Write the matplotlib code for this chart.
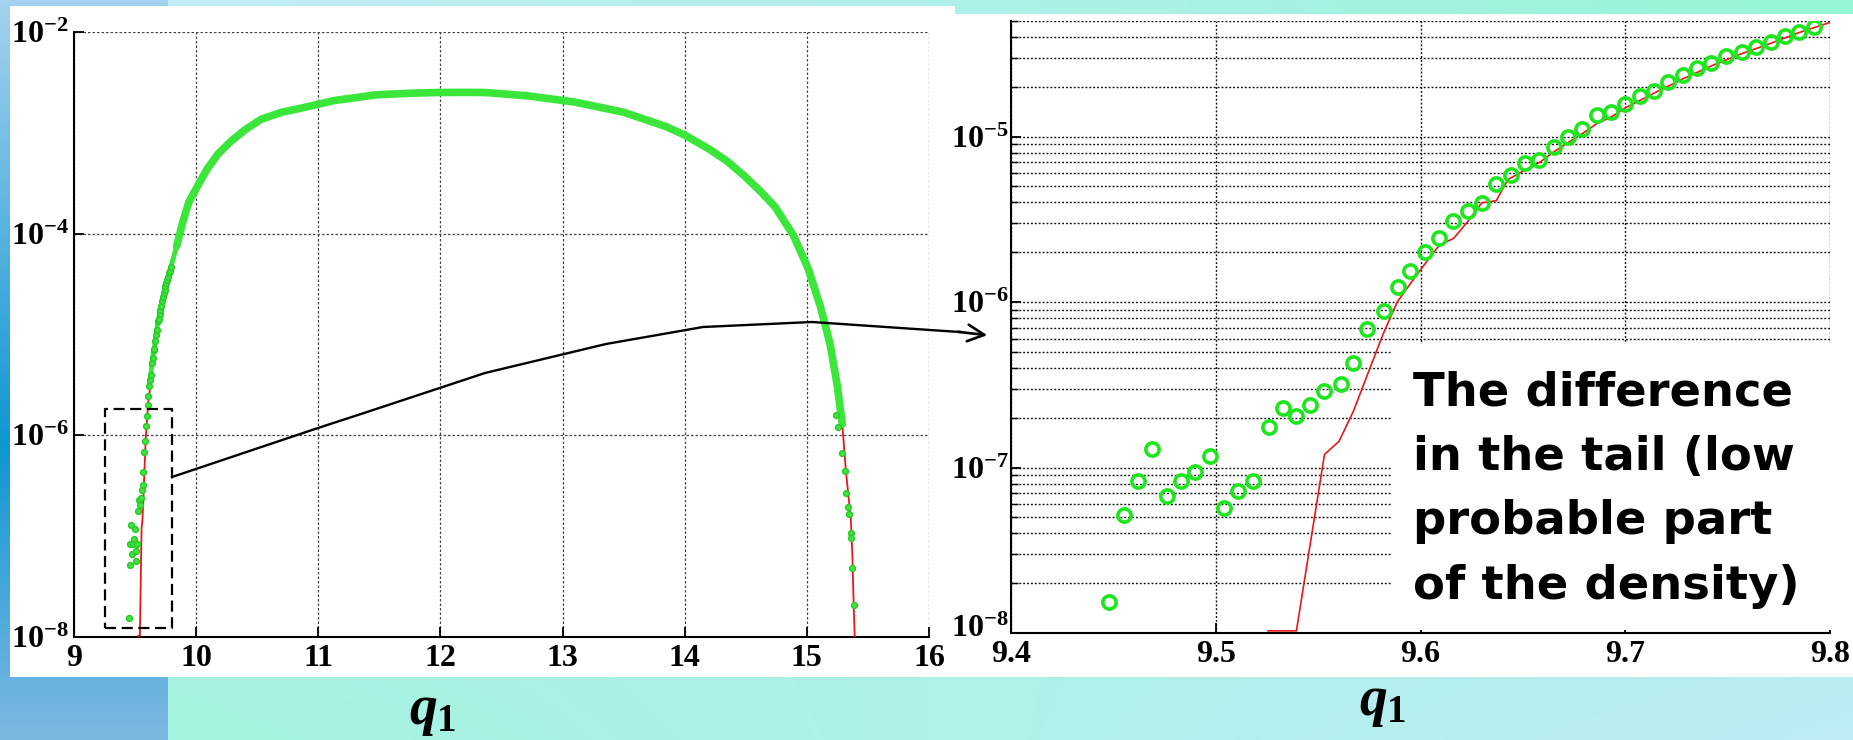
import numpy as np
import matplotlib
matplotlib.use('Agg')
import matplotlib.pyplot as plt
from matplotlib.patches import Rectangle, FancyArrowPatch
from matplotlib.lines import Line2D
from matplotlib.transforms import ScaledTranslation
from matplotlib.ticker import FixedLocator, FuncFormatter, LogLocator, NullFormatter

plt.rcParams['mathtext.fontset'] = 'custom'
plt.rcParams['mathtext.rm'] = 'Liberation Serif:bold'
plt.rcParams['mathtext.it'] = 'Liberation Serif:bold:italic'
plt.rcParams['mathtext.bf'] = 'Liberation Serif:bold'
plt.rcParams['font.family'] = ['Liberation Serif', 'DejaVu Serif']

# ---------------- data ----------------
# Monte-Carlo histogram near the left tail (green circles)
tail_q = [9.448, 9.455, 9.462, 9.469, 9.476, 9.483, 9.490, 9.497, 9.504, 9.511,
          9.518, 9.526, 9.533, 9.539, 9.546, 9.553, 9.561, 9.567, 9.574, 9.582,
          9.589, 9.595, 9.602, 9.609, 9.616, 9.623, 9.630, 9.637, 9.644, 9.651,
          9.658, 9.665, 9.672, 9.679, 9.686, 9.693, 9.700, 9.707, 9.714, 9.721,
          9.728, 9.735, 9.742, 9.749, 9.757, 9.764, 9.771, 9.778, 9.785, 9.792]
tail_p = [1.53e-8, 5.2e-8, 8.3e-8, 1.30e-7, 6.7e-8, 8.3e-8, 9.4e-8, 1.18e-7, 5.7e-8, 7.2e-8,
          8.3e-8, 1.77e-7, 2.28e-7, 2.06e-7, 2.38e-7, 2.9e-7, 3.2e-7, 4.3e-7, 6.9e-7, 8.8e-7,
          1.24e-6, 1.55e-6, 2.0e-6, 2.43e-6, 3.1e-6, 3.56e-6, 3.98e-6, 5.2e-6, 5.9e-6, 6.97e-6,
          7.2e-6, 8.65e-6, 9.9e-6, 1.12e-5, 1.35e-5, 1.41e-5, 1.58e-5, 1.75e-5, 1.9e-5, 2.13e-5,
          2.35e-5, 2.6e-5, 2.77e-5, 3.06e-5, 3.23e-5, 3.49e-5, 3.73e-5, 4.03e-5, 4.31e-5, 4.63e-5]

# Computed density near the left tail (red line)
red_tail_q = [9.5255, 9.5394, 9.5531, 9.5602, 9.5673, 9.5744, 9.5815, 9.5886, 9.5952, 9.602,
              9.6091, 9.6162, 9.623, 9.6299, 9.637, 9.6427, 9.6512, 9.6583, 9.6652, 9.672,
              9.6794, 9.6862, 9.6933, 9.7004, 9.714, 9.728, 9.7422, 9.7565, 9.7707, 9.785, 9.80]
red_tail_p = [1.03e-8, 1.03e-8, 1.20e-7, 1.44e-7, 2.2e-7, 3.73e-7, 6.3e-7, 1.0e-6, 1.30e-6, 1.69e-6,
              2.2e-6, 2.43e-6, 3.06e-6, 3.98e-6, 4.1e-6, 5.5e-6, 6.3e-6, 7.0e-6, 8.1e-6, 9.2e-6,
              1.05e-5, 1.2e-5, 1.32e-5, 1.5e-5, 1.83e-5, 2.23e-5, 2.68e-5, 3.16e-5, 3.65e-5, 4.26e-5, 4.9e-5]

# Body of the density (both curves coincide)
body_q = [9.84, 9.89, 9.94, 10.0, 10.09, 10.18, 10.29, 10.40, 10.53, 10.70,
          10.88, 11.13, 11.47, 11.75, 11.97, 12.2, 12.37, 12.71, 13.1, 13.5,
          13.85, 14.0, 14.2, 14.35, 14.49, 14.62, 14.74, 14.89, 15.01, 15.11,
          15.19, 15.25, 15.29, 15.32, 15.36, 15.373, 15.383, 15.393]
body_p = [7.5e-5, 1.3e-4, 2.05e-4, 2.8e-4, 4.37e-4, 6.2e-4, 8.36e-4, 1.07e-3, 1.36e-3, 1.6e-3,
          1.78e-3, 2.09e-3, 2.38e-3, 2.47e-3, 2.51e-3, 2.52e-3, 2.51e-3, 2.33e-3, 2.02e-3, 1.60e-3,
          1.15e-3, 9.5e-4, 6.9e-4, 5.2e-4, 3.72e-4, 2.63e-4, 1.84e-4, 9.6e-5, 4.53e-5, 1.91e-5,
          8.05e-6, 3.05e-6, 1.29e-6, 4.37e-7, 1.48e-7, 6.25e-8, 2.12e-8, 9.0e-9]

# Monte-Carlo points in the right tail
rtail_q = [15.235, 15.259, 15.284, 15.309, 15.324, 15.334, 15.348, 15.358, 15.363, 15.373, 15.385]
rtail_p = [1.60e-6, 1.22e-6, 6.7e-7, 4.4e-7, 2.7e-7, 1.95e-7, 1.65e-7, 1.07e-7, 9.6e-8, 4.8e-8, 2.1e-8]

left_xticks = [9, 10, 11, 12, 13, 14, 15, 16]
left_yticks = [1e-8, 1e-6, 1e-4, 1e-2]
right_xticks = [9.4, 9.5, 9.6, 9.7, 9.8]
right_yticks = [1e-8, 1e-7, 1e-6, 1e-5]
zoom_box = (9.25, 9.80, 1.23e-8, 1.82e-6)   # region enlarged on the right
note = "The difference\nin the tail (low\nprobable part\nof the density)"

# ---------------- figure ----------------
W, H = 1853, 740
fig = plt.figure(figsize=(W / 100, H / 100), dpi=100)


def fx(x):
    return x / W


def fy(y):
    return 1 - y / H


# background gradient (slide)
bg = fig.add_axes([0, 0, 1, 1], zorder=-10)
bg.set_axis_off()
yy, xx = np.mgrid[0:1:H * 1j, 0:1:W * 1j]
TL = np.array([200, 235, 250]) / 255
TR = np.array([150, 245, 215]) / 255
BL = np.array([160, 245, 220]) / 255
BR = np.array([190, 236, 245]) / 255
img = (TL * ((1 - xx) * (1 - yy))[..., None] + TR * (xx * (1 - yy))[..., None]
       + BL * ((1 - xx) * yy)[..., None] + BR * (xx * yy)[..., None])
ys = np.linspace(0, 1, H)
c0 = np.array([165, 210, 238]) / 255
c1 = np.array([15, 150, 210]) / 255
c2 = np.array([125, 185, 225]) / 255
strip = np.where((ys < 0.6)[:, None], c0 + (c1 - c0) * np.clip(ys / 0.6, 0, 1)[:, None],
                 c1 + (c2 - c1) * np.clip((ys - 0.6) / 0.4, 0, 1)[:, None])
img[:, :168, :] = strip[:, None, :]
bg.imshow(img, aspect='auto', extent=[0, 1, 0, 1], origin='upper')

# white panels
fig.add_artist(Rectangle((fx(10), fy(677)), fx(955) - fx(10), fy(6) - fy(677),
                         transform=fig.transFigure, facecolor='white', edgecolor='none', zorder=-5))
fig.add_artist(Rectangle((fx(955), fy(677)), 1 - fx(955), fy(14) - fy(677),
                         transform=fig.transFigure, facecolor='white', edgecolor='none', zorder=-5))

grid_kw = dict(color='#111111', linestyle=(0, (1.4, 1.4)), linewidth=1.0)
exp_fmt = FuncFormatter(lambda v, pos: r'$10^{%d}$' % int(round(np.log10(v))))


def style_axes(ax):
    ax.set_facecolor('none')
    for s in ('top', 'right'):
        ax.spines[s].set_visible(False)
    for s in ('left', 'bottom'):
        ax.spines[s].set_linewidth(1.5)
    ax.tick_params(which='major', direction='in', length=7, width=1.3, labelsize=23, pad=5)
    ax.tick_params(which='minor', direction='in', length=5, width=1.0)


# ---------- left axes ----------
axL = fig.add_axes([fx(74), fy(637), fx(929) - fx(74), fy(32) - fy(637)])
style_axes(axL)
axL.tick_params(axis='y', pad=4)
axL.set_yscale('log')
axL.set_xlim(9, 16)
axL.set_ylim(1e-8, 1e-2)
axL.xaxis.set_major_locator(FixedLocator(left_xticks))
axL.yaxis.set_major_locator(FixedLocator(left_yticks))
axL.yaxis.set_minor_locator(FixedLocator([]))
axL.yaxis.set_major_formatter(exp_fmt)
axL.set_xticklabels([str(v) for v in left_xticks], fontweight='bold')
axL.grid(True, which='major', color='#444444', linestyle=(0, (2.0, 1.6)), linewidth=0.9)

red_full_q = red_tail_q + body_q
red_full_p = red_tail_p + body_p
axL.plot(red_full_q, red_full_p, color='#e81818', lw=1.3, zorder=3)

tq = np.array(tail_q)
tp = np.array(tail_p)
mt = tp >= 3e-6
bq = np.array(body_q)
bp = np.array(body_p)
mb = bp >= 1e-6
axL.plot(np.r_[tq[mt], bq[mb]], np.r_[tp[mt], bp[mb]], color='#3ae63a', lw=3.5,
         solid_capstyle='round', solid_joinstyle='round', zorder=4)
axL.plot(bq[mb], bp[mb], color='#3ae63a', lw=5.5, solid_capstyle='round',
         solid_joinstyle='round', zorder=4)
axL.plot(tail_q, tail_p, ls='none', marker='o', ms=4.2, mfc='#44e044', mec='#22cc22', mew=1, zorder=5)
axL.plot(rtail_q, rtail_p, ls='none', marker='o', ms=4.2, mfc='#44e044', mec='#22cc22', mew=1, zorder=5)

x0, x1, y0, y1 = zoom_box
axL.plot([x0, x1, x1, x0, x0], [y0, y0, y1, y1, y0], color='black', lw=1.6,
         linestyle=(0, (5, 2.5)), zorder=6)

# ---------- right axes ----------
axR = fig.add_axes([fx(1011), fy(633), fx(1830) - fx(1011), fy(21) - fy(633)])
style_axes(axR)
axR.tick_params(axis='y', pad=2)
axR.set_yscale('log')
axR.set_xlim(9.4, 9.8)
axR.set_ylim(1e-8, 5e-5)
axR.xaxis.set_major_locator(FixedLocator(right_xticks))
axR.set_xticklabels([f'{v:.1f}' for v in right_xticks], fontweight='bold')
axR.yaxis.set_major_locator(FixedLocator(right_yticks))
axR.yaxis.set_minor_locator(LogLocator(base=10, subs=np.arange(2, 10)))
axR.yaxis.set_major_formatter(exp_fmt)
axR.yaxis.set_minor_formatter(NullFormatter())
axR.grid(True, which='major', **grid_kw)
axR.grid(True, which='minor', axis='y', **grid_kw)

# lift the lowest y label a little so it clears the "9.4" label
lab0 = axR.get_yticklabels()[0]
lab0.set_transform(lab0.get_transform() + ScaledTranslation(0, 5 / 72, fig.dpi_scale_trans))

axR.plot(red_tail_q, red_tail_p, color='#e81818', lw=1.2, zorder=3)
axR.plot(tail_q, tail_p, ls='none', marker='o', ms=9.5, mfc='none', mec='#1ee61e', mew=2.6, zorder=4)

# ---------- connecting arrow ----------
path_px = [(172, 477), (315, 429), (364, 413), (485, 373), (606, 344), (703, 327),
           (812, 322), (930, 330), (960, 332)]
fig.add_artist(Line2D([fx(p[0]) for p in path_px], [fy(p[1]) for p in path_px],
                      transform=fig.transFigure, color='black', lw=1.7, zorder=7))
fig.add_artist(FancyArrowPatch((fx(955), fy(331.5)), (fx(990), fy(335.5)),
                               transform=fig.transFigure, arrowstyle='->,head_length=8,head_width=4',
                               mutation_scale=1.5, color='black', lw=1.9, zorder=7))

# ---------- note box ----------
fig.add_artist(Rectangle((fx(1391), fy(630)), fx(1832) - fx(1391), fy(344) - fy(630),
                         transform=fig.transFigure, facecolor='white', edgecolor='none', zorder=8))
fig.text(fx(1413), fy(371), note, family=['DejaVu Sans'], fontweight='bold', fontsize=33.5,
         ha='left', va='top', linespacing=1.55, zorder=9)

# ---------- axis labels on the slide ----------
fig.text(fx(433), fy(712), r'$q_1$', fontsize=40, ha='center', va='center')
fig.text(fx(1383), fy(703), r'$q_1$', fontsize=40, ha='center', va='center')

fig.savefig('out.png', dpi=100)
